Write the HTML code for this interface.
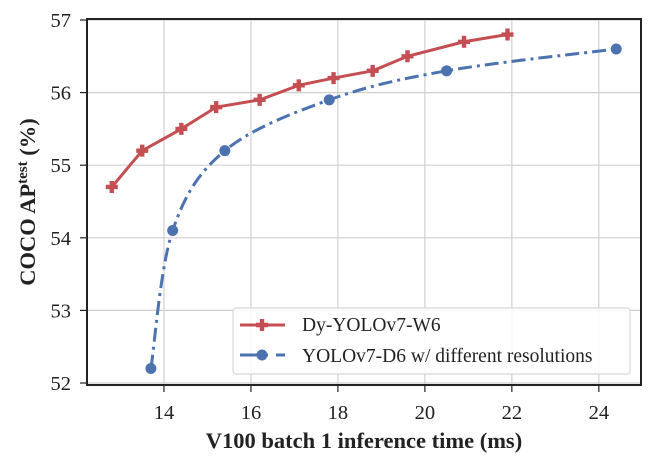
<!DOCTYPE html>
<html><head><meta charset="utf-8"><style>
body{margin:0;background:#fff}
svg{display:block;font-family:"Liberation Serif",serif}
</style></head><body>
<svg id="chart" width="653" height="466"></svg>
<script>
const xTicks=[14,16,18,20,22,24];
const yTicks=[52,53,54,55,56,57];
const redX=[12.8,13.5,14.4,15.2,16.2,17.1,17.9,18.8,19.6,20.9,21.9];
const redY=[54.7,55.2,55.5,55.8,55.9,56.1,56.2,56.3,56.5,56.7,56.8];
const blueX=[13.7,14.2,15.4,17.8,20.5,24.4];
const blueY=[52.2,54.1,55.2,55.9,56.3,56.6];
const seriesNames=["Dy-YOLOv7-W6","YOLOv7-D6 w/ different resolutions"];

const L=87,R=641,T=20,B=385;
const xMin=12.23,xMax=24.97,yMin=52,yMax=57;
const sx=v=>L+(v-xMin)/(xMax-xMin)*(R-L);
const sy=v=>B-2-(v-yMin)/(yMax-yMin)*(B-2-T);
const svg=document.getElementById('chart');
const NS='http://www.w3.org/2000/svg';
function mk(tag,attrs,parent){const e=document.createElementNS(NS,tag);for(const k in attrs)e.setAttribute(k,attrs[k]);(parent||svg).appendChild(e);return e;}

xTicks.forEach(t=>{
  const g=mk('line',{x1:sx(t),x2:sx(t),y1:T,y2:B,stroke:'#d0d0d0','stroke-width':1.2});
  
  
  const tk=mk('line',{x1:sx(t),x2:sx(t),y1:B,y2:B+7,stroke:'#222','stroke-width':1.2});
  
  
  const tx=mk('text',{x:sx(t),y:419,'text-anchor':'middle','font-size':20.5,fill:'#222'});
  tx.textContent=t;
  
  
});
yTicks.forEach(t=>{
  const g=mk('line',{x1:L,x2:R,y1:sy(t),y2:sy(t),stroke:'#d0d0d0','stroke-width':1.2});
  
  
  const tk=mk('line',{x1:L-7,x2:L,y1:sy(t),y2:sy(t),stroke:'#222','stroke-width':1.2});
  
  
  const tx=mk('text',{x:71,y:sy(t)+7,'text-anchor':'end','font-size':20.5,fill:'#222'});
  tx.textContent=t;
  
  
});
const frame=mk('rect',{x:L,y:T-1,width:R-L,height:B-T+1,fill:'none',stroke:'#222','stroke-width':2});



function smoothPath(xs,ys){
  const p=xs.map((x,i)=>[sx(x),sy(ys[i])]);
  let d=`M${p[0][0]},${p[0][1]}`;
  for(let i=0;i<p.length-1;i++){
    const p0=p[i-1]||p[i],p1=p[i],p2=p[i+1],p3=p[i+2]||p2;
    const c1=[p1[0]+(p2[0]-p0[0])/6,p1[1]+(p2[1]-p0[1])/6];
    const c2=[p2[0]-(p3[0]-p1[0])/6,p2[1]-(p3[1]-p1[1])/6];
    d+=` C${c1[0]},${c1[1]} ${c2[0]},${c2[1]} ${p2[0]},${p2[1]}`;
  }
  return d;
}
const bl=mk('path',{d:smoothPath(blueX,blueY),fill:'none',stroke:'#4c72b0','stroke-width':3,'stroke-dasharray':'14,5,3,5'});


blueX.forEach((x,i)=>{
  const c=mk('circle',{cx:sx(x),cy:sy(blueY[i]),r:5.5,fill:'#4c72b0'});
  
  
});
const rl=mk('polyline',{points:redX.map((x,i)=>sx(x)+','+sy(redY[i])).join(' '),fill:'none',stroke:'#c44e52','stroke-width':3});


function plus(cx,cy,parent){
  return mk('path',{d:`M${cx-6},${cy-2.2}h3.8v-3.8h4.4v3.8h3.8v4.4h-3.8v3.8h-4.4v-3.8h-3.8z`,fill:'#c44e52'},parent);
}
redX.forEach((x,i)=>{
  const m=plus(sx(x),sy(redY[i]));
  
  
});

const lg=mk('g',{});


mk('rect',{x:233,y:308,width:397,height:66,rx:3,fill:'rgba(255,255,255,0.85)',stroke:'#d8d8d8','stroke-width':1.2},lg);
mk('line',{x1:240,x2:285,y1:325,y2:325,stroke:'#c44e52','stroke-width':3},lg);
plus(262,325,lg);
mk('line',{x1:240,x2:268,y1:355,y2:355,stroke:'#4c72b0','stroke-width':3},lg);
mk('line',{x1:276,x2:285,y1:355,y2:355,stroke:'#4c72b0','stroke-width':3},lg);
mk('circle',{cx:262,cy:355,r:5.5,fill:'#4c72b0'},lg);
[331,362].forEach((y,i)=>{
  const t=mk('text',{x:302,y:y,'font-size':19.5,fill:'#222'},lg);
  t.textContent=seriesNames[i];
  
  
});
</script>
<svg width="653" height="466" style="position:absolute;left:0;top:0">
<text x="364" y="448" text-anchor="middle" font-family="Liberation Serif,serif" font-weight="bold" font-size="22.5" fill="#222">V100 batch 1 inference time (ms)</text>
<text transform="translate(35,202) rotate(-90)" text-anchor="middle" font-family="Liberation Serif,serif" font-weight="bold" font-size="22.5" fill="#222">COCO AP<tspan font-size="15" dy="-8">test</tspan><tspan dy="8"> (%)</tspan></text>
</svg>
</body></html>
